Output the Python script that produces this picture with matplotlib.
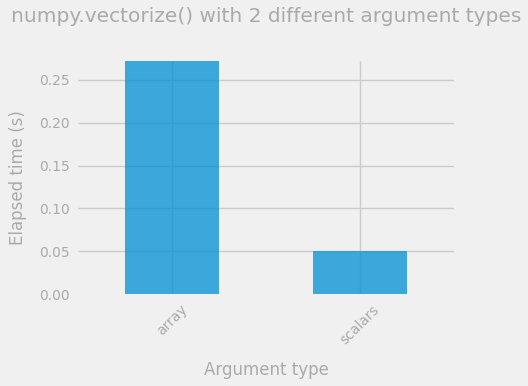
import matplotlib
matplotlib.use("Agg")
import matplotlib.pyplot as plt
import numpy as np

categories = ["array", "scalars"]
elapsed = [0.272, 0.050]

plt.style.use("fivethirtyeight")
plt.rcParams["font.family"] = ["DejaVu Sans"]
gray = "#aaaaaa"
fig = plt.figure(figsize=(5.28, 3.86), dpi=100, facecolor="#f0f0f0")
ax = fig.add_axes([0.148, 0.238, 0.712, 0.604])
ax.set_facecolor("#f0f0f0")
x = np.arange(len(categories))
ax.set_axisbelow(True)
ax.grid(True, color="#cbcbcb", linewidth=1)
ax.bar(x, elapsed, width=0.5, color="#008fd5", alpha=0.75, zorder=2)
ax.set_xlim(-0.5, 1.5)
ax.set_ylim(0, max(elapsed))
ax.set_xticks(x)
ax.set_xticklabels(categories, rotation=45, color=gray, fontsize=10)
ax.set_yticks([0, 0.05, 0.10, 0.15, 0.20, 0.25])
ax.set_yticklabels(["0.00", "0.05", "0.10", "0.15", "0.20", "0.25"], color=gray, fontsize=10)
ax.tick_params(length=0, pad=6)
ax.yaxis.get_gridlines()[0].set_visible(False)
ax.set_xlabel("Argument type", color=gray, fontsize=12, labelpad=10)
ax.set_ylabel("Elapsed time (s)", color=gray, fontsize=12, labelpad=9)
ax.set_title("numpy.vectorize() with 2 different argument types", color=gray, fontsize=14.5, pad=28)
for s in ax.spines.values():
    s.set_visible(False)
fig.savefig("out.png", dpi=100, facecolor="#f0f0f0")
